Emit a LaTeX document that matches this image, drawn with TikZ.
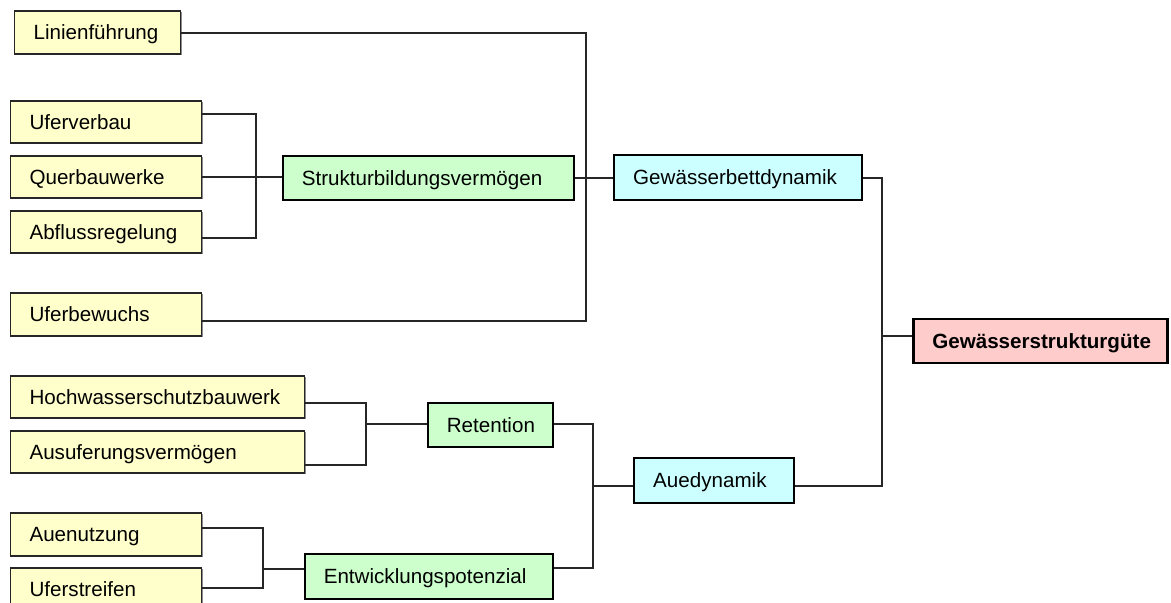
\documentclass[tikz,border=0pt]{standalone}
\usepackage{fontspec}
\setmainfont{Liberation Sans}
\usetikzlibrary{shadows}
\tikzset{
  bx/.style={rectangle, anchor=west, inner xsep=9.5pt, inner ysep=0pt, align=left,
    font=\fontsize{10.3}{12}\selectfont, text height=9.3pt, text depth=2.2pt,
    drop shadow={shadow xshift=0.5pt, shadow yshift=-0.5pt, fill=black!45, opacity=1}},
  ybox/.style={bx, draw=black!85, line width=0.55pt, fill=yellowfill},
  gbox/.style={bx, draw=black, line width=0.8pt, fill=greenfill},
  cbox/.style={bx, draw=black, line width=1.2pt, fill=cyanfill},
  pbox/.style={bx, draw=black, line width=1.3pt, fill=pinkfill, font=\fontsize{10.3}{12}\selectfont\bfseries},
  conn/.style={draw=black!85, line width=0.6pt}
}
\definecolor{yellowfill}{HTML}{FFFFCC}
\definecolor{greenfill}{HTML}{CCFFCC}
\definecolor{cyanfill}{HTML}{CCFFFF}
\definecolor{pinkfill}{HTML}{FFCCCC}
\begin{document}
\begin{tikzpicture}[x=0.5pt,y=-0.5pt]
\useasboundingbox (0,0) rectangle (1171,603);
\fill[white] (0,0) rectangle (1171,603);
% yellow boxes
\node[ybox, text width=64pt, minimum height=21.5pt] (lin) at (14,32.5) {Linienführung};
\node[ybox, text width=76.5pt, minimum height=21pt] (ufv) at (10,122) {Uferverbau};
\node[ybox, text width=76.5pt, minimum height=21pt] (qbw) at (10,177) {Querbauwerke};
\node[ybox, text width=76.5pt, minimum height=21pt] (abr) at (10,232) {Abflussregelung};
\node[ybox, text width=76.5pt, minimum height=21.5pt] (ufb) at (10,314.5) {Uferbewuchs};
\node[ybox, text width=128pt, minimum height=21pt] (hws) at (10,397) {Hochwasserschutzbauwerk};
\node[ybox, text width=128pt, minimum height=21pt] (ausv) at (10,452) {Ausuferungsvermögen};
\node[ybox, text width=76.5pt, minimum height=21.5pt] (aue) at (10,534.5) {Auenutzung};
\node[ybox, text width=76.5pt, minimum height=21.5pt] (ufs) at (10,589.5) {Uferstreifen};
% green boxes
\node[gbox, text width=126.5pt, minimum height=22pt] (str) at (282,178) {Strukturbildungsvermögen};
\node[gbox, text width=43.5pt, minimum height=22pt] (ret) at (427,425) {Retention};
\node[gbox, text width=105pt, minimum height=22.5pt] (ent) at (304,576.5) {Entwicklungspotenzial};
% cyan boxes
\node[cbox, text width=105pt, minimum height=22.5pt] (gbd) at (613,177.5) {Gewässerbettdynamik};
\node[cbox, text width=61pt, minimum height=22.5pt] (aued) at (633,480.5) {Auedynamik};
% pink box
\node[pbox, text width=108pt, minimum height=22pt] (gsg) at (912,341) {Gewässerstrukturgüte};
% junction coordinates
\coordinate (j1a) at (256,114);
\coordinate (j1b) at (256,238);
\coordinate (j1m) at (256,177);
\coordinate (j2a) at (586,33);
\coordinate (j2b) at (586,321);
\coordinate (j2m) at (586,178);
\coordinate (j3a) at (366,403);
\coordinate (j3b) at (366,465);
\coordinate (j3m) at (366,424);
\coordinate (j4a) at (263,528);
\coordinate (j4b) at (263,588);
\coordinate (j4m) at (263,569);
\coordinate (j5a) at (593,424);
\coordinate (j5b) at (593,568);
\coordinate (j5m) at (593,486);
\coordinate (j6a) at (882,178);
\coordinate (j6b) at (882,486);
\coordinate (j6m) at (882,336);
% connectors
\draw[conn] (ufv.east |- j1a) -- (j1a) -- (j1b) -- (abr.east |- j1b);
\draw[conn] (qbw.east |- j1m) -- (str.west |- j1m);
\draw[conn] (lin.east |- j2a) -- (j2a) -- (j2b) -- (ufb.east |- j2b);
\draw[conn] (str.east |- j2m) -- (gbd.west |- j2m);
\draw[conn] (hws.east |- j3a) -- (j3a) -- (j3b) -- (ausv.east |- j3b);
\draw[conn] (j3m) -- (ret.west |- j3m);
\draw[conn] (aue.east |- j4a) -- (j4a) -- (j4b) -- (ufs.east |- j4b);
\draw[conn] (j4m) -- (ent.west |- j4m);
\draw[conn] (ret.east |- j5a) -- (j5a) -- (j5b) -- (ent.east |- j5b);
\draw[conn] (j5m) -- (aued.west |- j5m);
\draw[conn] (gbd.east |- j6a) -- (j6a) -- (j6b) -- (aued.east |- j6b);
\draw[conn] (j6m) -- (gsg.west |- j6m);
\end{tikzpicture}
\end{document}
